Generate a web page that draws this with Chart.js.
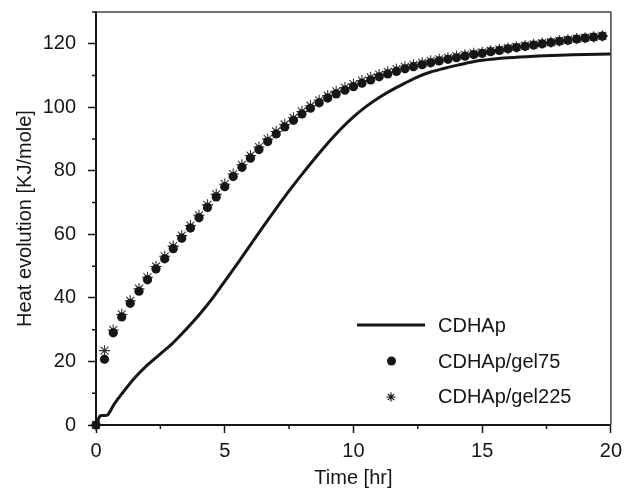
<!DOCTYPE html>
<html>
<head>
<meta charset="utf-8">
<script src="https://cdn.jsdelivr.net/npm/chart.js@4/dist/chart.umd.min.js"></script>
<style>
  html, body { margin: 0; padding: 0; background: #fff; }
  #wrap { width: 628px; height: 490px; }
</style>
</head>
<body>
<div id="wrap"><canvas id="myChart" width="628" height="490"></canvas></div>
<script>
// CDHAp curve (time in hr, heat in KJ/mole)
var lineTime = [0, 0.15, 0.25, 0.45, 0.7, 1, 1.5, 2, 2.5, 3, 3.5, 4, 4.5, 5, 5.5, 6, 6.5, 7, 7.5, 8, 8.5, 9, 9.5, 10,
  10.5, 11, 11.5, 12, 12.5, 13, 13.5, 14, 14.5, 15, 16, 17, 18, 19, 20];
var lineHeat = [0, 2.8, 3.0, 3.2, 6.5, 9.8, 14.8, 18.9, 22.4, 25.9, 30.1, 34.6, 39.6, 45.2, 50.9, 56.7, 62.5, 68.2, 73.7, 78.9, 83.9, 88.7, 93.1, 97.0,
  100.3, 103.1, 105.5, 107.6, 109.6, 111.1, 112.2, 113.2, 114.1, 114.8, 115.6, 116.1, 116.4, 116.6, 116.8];

// measured points, every 20 min
var markerTime = [0, 0.33, 0.67, 1, 1.33, 1.67, 2, 2.33, 2.67, 3, 3.33, 3.67, 4, 4.33, 4.67, 5, 5.33, 5.67, 6, 6.33,
  6.67, 7, 7.33, 7.67, 8, 8.33, 8.67, 9, 9.33, 9.67, 10, 10.33, 10.67, 11, 11.33, 11.67, 12, 12.33, 12.67, 13,
  13.33, 13.67, 14, 14.33, 14.67, 15, 15.33, 15.67, 16, 16.33, 16.67, 17, 17.33, 17.67, 18, 18.33, 18.67, 19, 19.33, 19.67];
var gel75 = [0, 20.7, 29.0, 34.0, 38.3, 42.1, 45.7, 49.1, 52.3, 55.5, 58.8, 62.0, 65.2, 68.5, 71.8, 75.0, 78.2, 81.1, 84.0, 86.7,
  89.2, 91.6, 93.8, 95.9, 97.9, 99.7, 101.4, 102.9, 104.2, 105.4, 106.5, 107.6, 108.6, 109.6, 110.5, 111.3, 112.1, 112.8, 113.4, 114.0,
  114.6, 115.1, 115.6, 116.1, 116.6, 117.0, 117.5, 117.9, 118.4, 118.8, 119.2, 119.6, 120.0, 120.4, 120.8, 121.1, 121.5, 121.8, 122.1, 122.4];
var gel225 = [0, 23.4, 29.9, 34.8, 39.1, 42.9, 46.5, 49.9, 53.1, 56.3, 59.6, 62.8, 66.0, 69.3, 72.6, 75.8, 79.0, 81.9, 84.8, 87.5,
  90.0, 92.4, 94.6, 96.7, 98.7, 100.5, 102.2, 103.7, 105.0, 106.2, 107.3, 108.4, 109.4, 110.3, 111.2, 112.0, 112.7, 113.4, 114.0, 114.6,
  115.1, 115.6, 116.1, 116.5, 117.0, 117.3, 117.8, 118.2, 118.6, 119.0, 119.4, 119.8, 120.2, 120.5, 120.9, 121.2, 121.6, 121.9, 122.2, 122.5];

var seriesNames = ['CDHAp', 'CDHAp/gel75', 'CDHAp/gel225'];
var xTicks = [0, 5, 10, 15, 20];
var yTicks = [0, 20, 40, 60, 80, 100, 120];

var FONT = '"Liberation Sans", Arial, Helvetica, sans-serif';
var INK = '#161616';

function toPoints(xs, ys) {
  return xs.map(function (x, i) { return { x: x, y: ys[i] }; });
}

// frame on top/right, minor ticks, and the legend inside the plot
var extras = {
  id: 'extras',
  afterDraw: function (chart) {
    var ctx = chart.ctx;
    var a = chart.chartArea;
    var xs = chart.scales.x, ys = chart.scales.y;
    ctx.save();
    ctx.strokeStyle = '#444';
    ctx.lineWidth = 1.5;
    ctx.beginPath();
    ctx.moveTo(a.left, a.top);
    ctx.lineTo(a.right, a.top);
    ctx.lineTo(a.right, a.bottom);
    ctx.stroke();

    // minor ticks
    ctx.strokeStyle = INK;
    ctx.lineWidth = 1.5;
    ctx.beginPath();
    for (var i = 0; i < xTicks.length - 1; i++) {
      var px = xs.getPixelForValue((xTicks[i] + xTicks[i + 1]) / 2);
      ctx.moveTo(px, a.bottom);
      ctx.lineTo(px, a.bottom + 4);
    }
    for (var j = 0; j < yTicks.length; j++) {
      var py = ys.getPixelForValue(yTicks[j] + 10);
      ctx.moveTo(a.left, py);
      ctx.lineTo(a.left - 4, py);
    }
    ctx.stroke();

    // legend
    ctx.font = '20px ' + FONT;
    ctx.fillStyle = INK;
    ctx.textBaseline = 'middle';
    ctx.textAlign = 'left';
    ctx.strokeStyle = INK;
    ctx.lineWidth = 3;
    ctx.beginPath();
    ctx.moveTo(357, 325);
    ctx.lineTo(425, 325);
    ctx.stroke();
    ctx.fillText(seriesNames[0], 438, 326);

    ctx.beginPath();
    ctx.arc(391.5, 361, 4.5, 0, Math.PI * 2);
    ctx.fill();
    ctx.fillText(seriesNames[1], 438, 362);

    ctx.lineWidth = 1.2;
    ctx.beginPath();
    var r = 4.5;
    for (var k = 0; k < 4; k++) {
      var ang = k * Math.PI / 4;
      ctx.moveTo(391 - r * Math.cos(ang), 397 - r * Math.sin(ang));
      ctx.lineTo(391 + r * Math.cos(ang), 397 + r * Math.sin(ang));
    }
    ctx.stroke();
    ctx.fillText(seriesNames[2], 438, 397);
    ctx.restore();
  }
};

const ctx = document.getElementById('myChart').getContext('2d');
const myChart = new Chart(ctx, {
  type: 'scatter',
  data: {
    datasets: [{
      label: seriesNames[0],
      data: toPoints(lineTime, lineHeat),
      showLine: true,
      borderColor: INK,
      borderWidth: 3,
      pointRadius: 0,
      tension: 0.3,
      order: 0
    }, {
      label: seriesNames[1],
      data: toPoints(markerTime, gel75),
      pointStyle: 'circle',
      pointRadius: 4.6,
      backgroundColor: INK,
      borderColor: INK,
      borderWidth: 0,
      clip: false,
      order: 1
    }, {
      label: seriesNames[2],
      data: toPoints(markerTime, gel225),
      pointStyle: 'star',
      pointRadius: 5.6,
      backgroundColor: INK,
      borderColor: '#333',
      borderWidth: 1.1,
      clip: false,
      order: 2
    }]
  },
  options: {
    responsive: false,
    animation: false,
    layout: { padding: { top: 12, right: 16, left: 0, bottom: 0 } },
    plugins: {
      legend: { display: false },
      tooltip: { enabled: false }
    },
    scales: {
      x: {
        type: 'linear',
        min: 0,
        max: 20,
        afterFit: function (s) { s.height = 65; },
        afterBuildTicks: function (s) { s.ticks = xTicks.map(function (v) { return { value: v }; }); },
        border: { color: INK, width: 2 },
        grid: { drawOnChartArea: false, drawTicks: true, tickLength: 8, tickWidth: 1.5, tickColor: INK },
        ticks: { color: INK, padding: 6, maxRotation: 0, font: { family: FONT, size: 20 } },
        title: { display: true, text: 'Time [hr]', color: INK, padding: { top: 0, bottom: 0 }, font: { family: FONT, size: 20 } }
      },
      y: {
        type: 'linear',
        min: 0,
        max: 130,
        afterFit: function (s) { s.width = 96; s.paddingTop = 0; s.paddingBottom = 0; },
        afterBuildTicks: function (s) { s.ticks = yTicks.map(function (v) { return { value: v }; }); },
        border: { color: INK, width: 2 },
        grid: { drawOnChartArea: false, drawTicks: true, tickLength: 8, tickWidth: 1.5, tickColor: INK },
        ticks: { color: INK, padding: 12, font: { family: FONT, size: 20 } },
        title: { display: true, text: 'Heat evolution [KJ/mole]', color: INK, padding: { top: 13, bottom: 0 }, font: { family: FONT, size: 20 } }
      }
    }
  },
  plugins: [extras]
});
</script>
</body>
</html>
